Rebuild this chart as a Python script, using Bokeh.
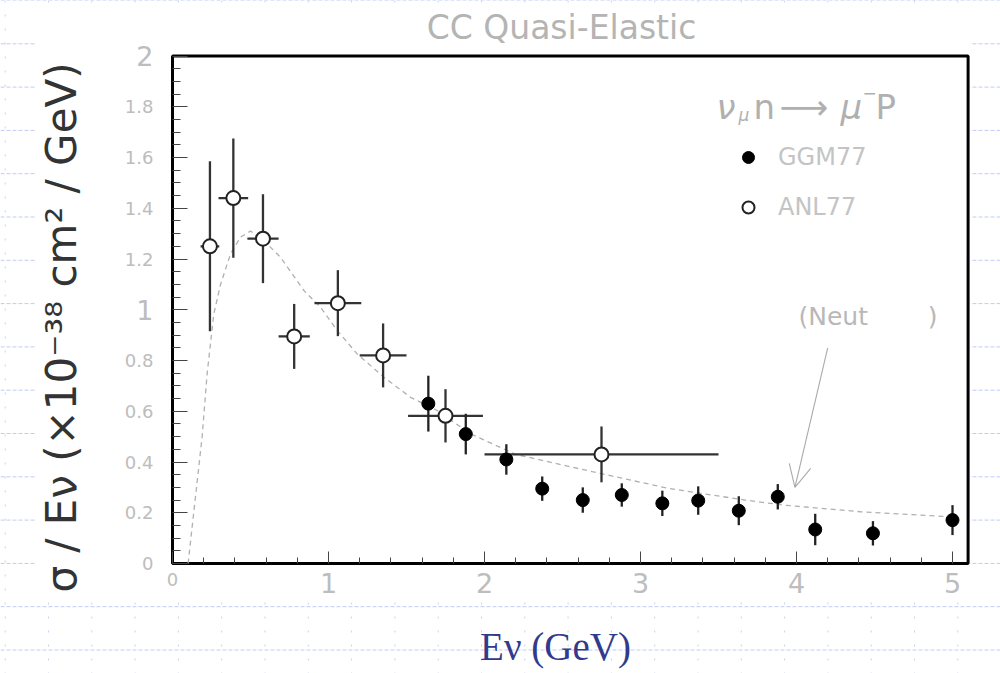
import math
from bokeh.plotting import figure
from bokeh.models import (Range1d, LinearAxis, FixedTicker, NumeralTickFormatter,
                          Legend, LegendItem, Arrow, OpenHead)
from bokeh.core.properties import value
from bokeh.embed import file_html
from bokeh.resources import INLINE

# ---------------- data ----------------
ggm_e   = [1.64, 1.88, 2.14, 2.37, 2.63, 2.88, 3.14, 3.37, 3.63, 3.88, 4.12, 4.49, 5.00]
ggm_sig = [0.63, 0.51, 0.41, 0.295, 0.25, 0.27, 0.237, 0.248, 0.208, 0.263, 0.134, 0.119, 0.171]
ggm_err = [0.11, 0.08, 0.06, 0.048, 0.05, 0.046, 0.05, 0.056, 0.057, 0.05, 0.062, 0.048, 0.059]

anl_e   = [0.24, 0.39, 0.58, 0.78, 1.06, 1.35, 1.75, 2.75]
anl_de  = [0.06, 0.095, 0.10, 0.10, 0.15, 0.15, 0.24, 0.75]
anl_sig = [1.25, 1.44, 1.28, 0.895, 1.026, 0.82, 0.582, 0.43]
anl_err = [0.335, 0.235, 0.175, 0.128, 0.13, 0.126, 0.105, 0.11]

neut_e   = [0.10, 0.19, 0.222, 0.265, 0.308, 0.372, 0.436, 0.50, 0.585, 0.692, 0.842, 0.949,
            1.056, 1.184, 1.355, 1.526, 1.697, 1.91, 2.20, 2.69, 3.18, 3.67, 3.92, 4.41, 5.00]
neut_sig = [0.0, 0.50, 0.748, 0.984, 1.10, 1.22, 1.286, 1.31, 1.273, 1.207, 1.076, 1.01,
            0.918, 0.826, 0.734, 0.655, 0.603, 0.511, 0.43, 0.362, 0.296, 0.25, 0.23, 0.204, 0.184]

x_big_ticks = [1, 2, 3, 4, 5]
x_small_ticks = [0]
x_minor_ticks = [0.2, 0.4, 0.6, 0.8, 1.2, 1.4, 1.6, 1.8, 2.2, 2.4, 2.6, 2.8, 3.2, 3.4, 3.6, 3.8,
                 4.2, 4.4, 4.6, 4.8]
y_big_ticks = [1, 2]
y_small_ticks = [0, 0.2, 0.4, 0.6, 0.8, 1.2, 1.4, 1.6, 1.8]
y_minor_ticks = [k * 0.05 for k in range(41) if k % 4 != 0]

X_MAX = 5.1
Y_MAX = 2.0

# --------------- page geometry (pixels -> data) ---------------
PX0, PXU = 172.0, 156.0      # x = 0 at px 172, 156 px per GeV
PY0, PYU = 563.0, 253.75     # y = 0 at py 563
W, H = 1000, 673

def X(px):
    return (px - PX0) / PXU

def Y(py):
    return (PY0 - py) / PYU

p = figure(width=W, height=H, x_range=Range1d(X(0), X(W)), y_range=Range1d(Y(H), Y(0)),
           output_backend="svg", toolbar_location=None, min_border=0,
           x_axis_type=None, y_axis_type=None)
p.outline_line_color = None
p.background_fill_color = "white"
p.border_fill_color = "white"

# slide background: light blue dashed grid
hy = [Y(43.3 * k) for k in range(16)]
p.segment(x0=[X(0)] * len(hy), y0=hy, x1=[X(W)] * len(hy), y1=hy,
          line_color="#c3cbf2", line_width=1, line_dash="4 2")
vx = [X(4.7 + 43.3 * k) for k in range(24)]
p.segment(x0=vx, y0=[Y(0)] * len(vx), x1=vx, y1=[Y(H)] * len(vx),
          line_color="#c9d0f0", line_width=1, line_dash="2 12")

# white chart picture
p.quad(left=[X(35)], right=[X(970)], top=[Y(12)], bottom=[Y(592)],
       fill_color="white", line_color=None)
# frame
p.quad(left=[0], right=[X_MAX], bottom=[0], top=[Y_MAX],
       fill_color="white", line_color="black", line_width=3)

# prediction curve
p.line(neut_e, neut_sig, line_color="#b0b0b0", line_width=1.3, line_dash="5 4")

# error bars
p.segment(x0=[e - d for e, d in zip(anl_e, anl_de)], y0=anl_sig,
          x1=[e + d for e, d in zip(anl_e, anl_de)], y1=anl_sig,
          line_color="#333333", line_width=2.3)
p.segment(x0=anl_e, y0=[s - d for s, d in zip(anl_sig, anl_err)],
          x1=anl_e, y1=[s + d for s, d in zip(anl_sig, anl_err)],
          line_color="#333333", line_width=2.3)
p.segment(x0=ggm_e, y0=[s - d for s, d in zip(ggm_sig, ggm_err)],
          x1=ggm_e, y1=[s + d for s, d in zip(ggm_sig, ggm_err)],
          line_color="#222222", line_width=2.3)

r_ggm = p.scatter(ggm_e, ggm_sig, size=13, fill_color="black", line_color="black")
r_anl = p.scatter(anl_e, anl_sig, size=14, fill_color="white", line_color="#222222", line_width=2)

# axes (fixed at the frame edges)
LBL = "#bdbdbd"
def add_x(ticks, minor, size):
    ax = LinearAxis(fixed_location=0, ticker=FixedTicker(ticks=ticks, minor_ticks=minor),
                    formatter=NumeralTickFormatter(format="0.[0]"))
    ax.axis_line_color = None
    ax.major_tick_in, ax.major_tick_out = 12, 0
    ax.minor_tick_in, ax.minor_tick_out = 6, 0
    ax.major_tick_line_color = "#444444"
    ax.minor_tick_line_color = "#444444"
    ax.major_label_standoff = 9
    ax.major_label_text_font = "DejaVu Sans"
    ax.major_label_text_font_size = size
    ax.major_label_text_color = LBL
    p.add_layout(ax, "below")

def add_y(ticks, minor, size):
    ax = LinearAxis(fixed_location=0, ticker=FixedTicker(ticks=ticks, minor_ticks=minor),
                    formatter=NumeralTickFormatter(format="0.[0]"))
    ax.axis_line_color = None
    ax.major_tick_in, ax.major_tick_out = 15, 0
    ax.minor_tick_in, ax.minor_tick_out = 8, 0
    ax.major_tick_line_color = "#444444"
    ax.minor_tick_line_color = "#444444"
    ax.major_label_standoff = 19
    ax.major_label_text_font = "DejaVu Sans"
    ax.major_label_text_font_size = size
    ax.major_label_text_color = LBL
    p.add_layout(ax, "left")

add_x(x_big_ticks, x_minor_ticks, "27px")
add_x(x_small_ticks, [], "18px")
add_y(y_big_ticks, [], "27px")
add_y(y_small_ticks, y_minor_ticks, "18px")

# titles
p.text(x=[X(561)], y=[Y(27)], text=["CC Quasi-Elastic"], text_align="center",
       text_baseline="middle", text_font=value("DejaVu Sans"), text_font_size="33px",
       text_color="#b4b4b4")
p.text(x=[X(61)], y=[Y(327)], text=["σ / Eν (×10⁻³⁸ cm² / GeV)"], angle=math.pi / 2,
       text_align="center", text_baseline="middle", text_font=value("DejaVu Sans"),
       text_font_size="42px", text_color="#333333")
p.text(x=[X(555)], y=[Y(646)], text=["Eν (GeV)"], text_align="center",
       text_baseline="middle", text_font=value("Liberation Serif"), text_font_size="39px",
       text_color="#323a8c")

# reaction label
RX = "#b0b0b0"
p.text(x=[X(716), X(840)], y=[Y(106), Y(106)], text=["ν", "μ"], text_font=value("DejaVu Sans"),
       text_font_style="italic", text_font_size="34px", text_color=RX, text_baseline="alphabetic")
p.text(x=[X(753), X(779), X(875)], y=[Y(106)] * 3, text=["n", "⟶", "P"],
       text_font=value("DejaVu Sans"), text_font_size="34px", text_color=RX,
       text_baseline="alphabetic")
p.text(x=[X(738)], y=[Y(114)], text=["μ"], text_font=value("DejaVu Sans"),
       text_font_style="italic", text_font_size="17px", text_color=RX, text_baseline="alphabetic")
p.text(x=[X(862)], y=[Y(92)], text=["−"], text_font=value("DejaVu Sans"),
       text_font_size="17px", text_color=RX, text_baseline="alphabetic")

# legend
legend = Legend(items=[LegendItem(label="GGM77", renderers=[r_ggm]),
                       LegendItem(label="ANL77", renderers=[r_anl])],
                location=(733, H - 222), orientation="vertical")
legend.background_fill_alpha = 0
legend.border_line_alpha = 0
legend.padding = 0
legend.margin = 0
legend.spacing = 20
legend.glyph_height = 30
legend.glyph_width = 30
legend.label_height = 30
legend.label_standoff = 15
legend.label_text_font = "DejaVu Sans"
legend.label_text_font_size = "24px"
legend.label_text_color = "#c4c4c4"
p.add_layout(legend)

# (Neut ) annotation with arrow
p.text(x=[X(798)], y=[Y(316)], text=["(Neut"], text_baseline="middle",
       text_font=value("DejaVu Sans"), text_font_size="25px", text_color="#b8b8b8")
p.text(x=[X(937)], y=[Y(316)], text=[")"], text_baseline="middle", text_align="right",
       text_font=value("DejaVu Sans"), text_font_size="25px", text_color="#b8b8b8")
p.add_layout(Arrow(end=OpenHead(size=22, line_color="#aaaaaa", line_width=1.1),
                   x_start=4.2, y_start=0.85, x_end=3.99, y_end=0.30,
                   line_color="#aaaaaa", line_width=1.1))

open("out.html", "w").write(file_html(p, INLINE))
